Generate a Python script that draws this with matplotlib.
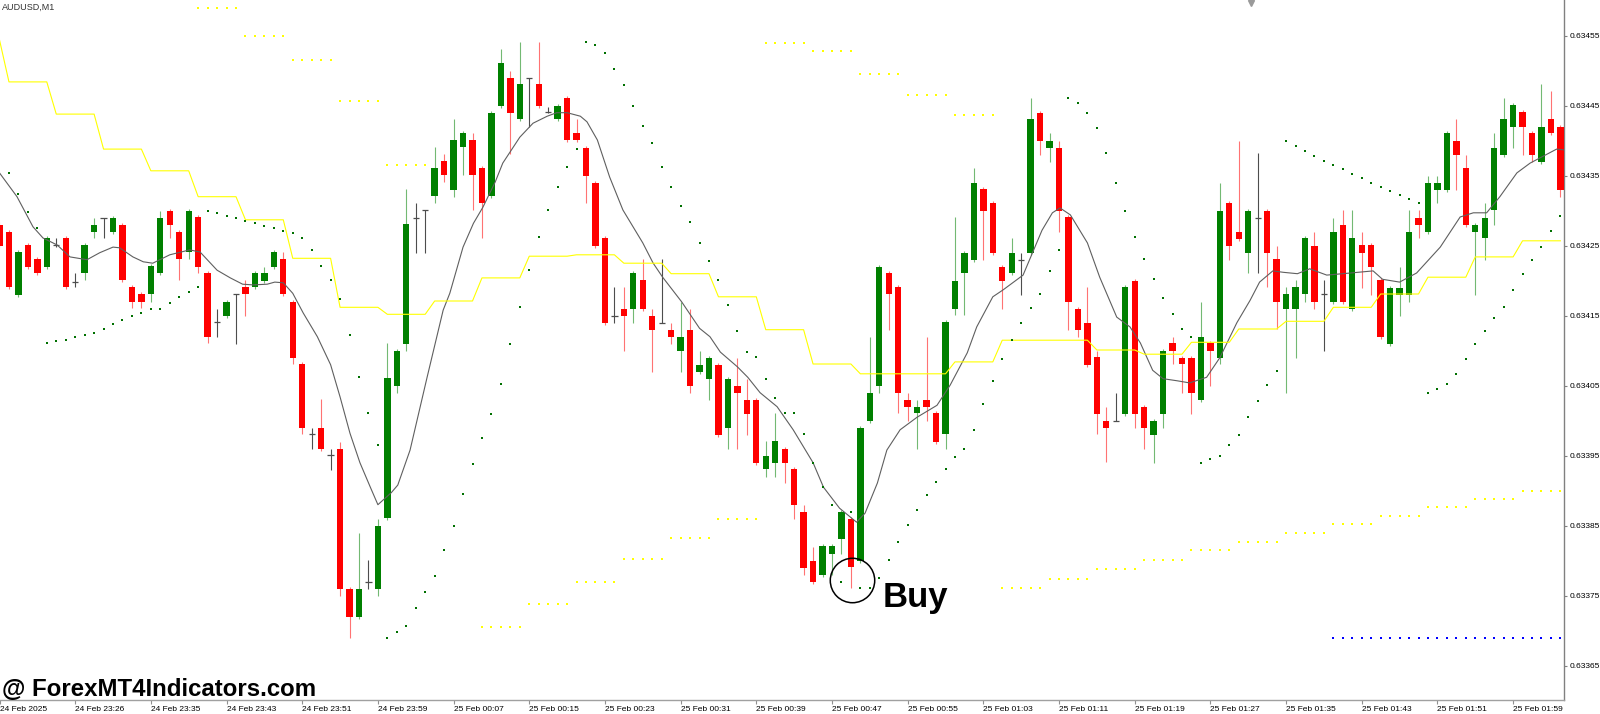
import numpy as np
import matplotlib
matplotlib.use("Agg")
import matplotlib.pyplot as plt
import matplotlib.transforms as mtransforms

plt.rcParams['font.family'] = ['Liberation Sans', 'DejaVu Sans']

SYMBOL = "AUDUSD,M1"
WATERMARK = "@ ForexMT4Indicators.com"

OPEN = [
    0.634280, 0.634270, 0.634180, 0.634251, 0.634231, 0.634220, 0.634251, 0.634261, 0.634198, 0.634211,
    0.634270, 0.634290, 0.634270, 0.634280, 0.634191, 0.634181, 0.634181, 0.634211, 0.634300, 0.634270,
    0.634241, 0.634291, 0.634211, 0.634141, 0.634150, 0.634181, 0.634191, 0.634191, 0.634200, 0.634220,
    0.634231, 0.634170, 0.634081, 0.633981, 0.633990, 0.633951, 0.633960, 0.633760, 0.633720, 0.633770,
    0.633760, 0.633861, 0.634050, 0.634110, 0.634290, 0.634301, 0.634321, 0.634371, 0.634330, 0.634391,
    0.634401, 0.634361, 0.634321, 0.634450, 0.634490, 0.634431, 0.634490, 0.634481, 0.634441, 0.634431,
    0.634461, 0.634411, 0.634390, 0.634340, 0.634261, 0.634150, 0.634160, 0.634160, 0.634201, 0.634150,
    0.634140, 0.634130, 0.634100, 0.634130, 0.634070, 0.634060, 0.634080, 0.633990, 0.634050, 0.634030,
    0.634030, 0.633931, 0.633940, 0.633960, 0.633931, 0.633870, 0.633800, 0.633780, 0.633810, 0.633831,
    0.633860, 0.633800, 0.634000, 0.634050, 0.634211, 0.634191, 0.634030, 0.634011, 0.634030, 0.634011,
    0.633981, 0.634160, 0.634211, 0.634230, 0.634331, 0.634311, 0.634220, 0.634211, 0.634230, 0.634240,
    0.634440, 0.634390, 0.634390, 0.634291, 0.634160, 0.634140, 0.634091, 0.634000, 0.634000, 0.634010,
    0.634200, 0.634020, 0.633980, 0.634010, 0.634111, 0.634090, 0.634090, 0.634030, 0.634111, 0.634090,
    0.634311, 0.634270, 0.634240, 0.634290, 0.634300, 0.634231, 0.634160, 0.634160, 0.634181, 0.634250,
    0.634181, 0.634170, 0.634280, 0.634160, 0.634251, 0.634251, 0.634201, 0.634110, 0.634180, 0.634180,
    0.634290, 0.634270, 0.634330, 0.634330, 0.634400, 0.634361, 0.634270, 0.634261, 0.634301, 0.634380,
    0.634420, 0.634441, 0.634411, 0.634370, 0.634431, 0.634420,
]
HIGH = [
    0.634284, 0.634272, 0.634244, 0.634254, 0.634234, 0.634264, 0.634261, 0.634264, 0.634211, 0.634254,
    0.634290, 0.634290, 0.634292, 0.634282, 0.634194, 0.634184, 0.634224, 0.634300, 0.634302, 0.634272,
    0.634302, 0.634294, 0.634214, 0.634160, 0.634172, 0.634181, 0.634201, 0.634214, 0.634220, 0.634244,
    0.634241, 0.634172, 0.634084, 0.633990, 0.634031, 0.633960, 0.633970, 0.633762, 0.633840, 0.633801,
    0.633860, 0.634111, 0.634102, 0.634331, 0.634311, 0.634301, 0.634391, 0.634381, 0.634431, 0.634414,
    0.634411, 0.634364, 0.634442, 0.634531, 0.634500, 0.634541, 0.634490, 0.634541, 0.634448, 0.634452,
    0.634464, 0.634431, 0.634392, 0.634342, 0.634264, 0.634191, 0.634191, 0.634214, 0.634231, 0.634160,
    0.634231, 0.634140, 0.634170, 0.634160, 0.634100, 0.634092, 0.634082, 0.634062, 0.634090, 0.634060,
    0.634032, 0.633971, 0.634011, 0.633962, 0.633934, 0.633880, 0.633820, 0.633824, 0.633824, 0.633872,
    0.633862, 0.633992, 0.634120, 0.634222, 0.634214, 0.634194, 0.634040, 0.634030, 0.634120, 0.634014,
    0.634144, 0.634291, 0.634242, 0.634361, 0.634334, 0.634314, 0.634222, 0.634261, 0.634240, 0.634461,
    0.634442, 0.634411, 0.634400, 0.634294, 0.634162, 0.634191, 0.634100, 0.634020, 0.634040, 0.634194,
    0.634202, 0.634022, 0.634002, 0.634102, 0.634120, 0.634092, 0.634092, 0.634170, 0.634114, 0.634340,
    0.634314, 0.634400, 0.634302, 0.634382, 0.634302, 0.634250, 0.634191, 0.634201, 0.634264, 0.634270,
    0.634201, 0.634290, 0.634301, 0.634301, 0.634270, 0.634254, 0.634204, 0.634192, 0.634220, 0.634301,
    0.634301, 0.634350, 0.634350, 0.634414, 0.634431, 0.634380, 0.634282, 0.634311, 0.634411, 0.634461,
    0.634454, 0.634444, 0.634414, 0.634481, 0.634471, 0.634422,
]
LOW = [
    0.634247, 0.634188, 0.634177, 0.634217, 0.634208, 0.634217, 0.634248, 0.634188, 0.634191, 0.634201,
    0.634261, 0.634261, 0.634267, 0.634198, 0.634161, 0.634161, 0.634170, 0.634208, 0.634261, 0.634201,
    0.634231, 0.634211, 0.634111, 0.634120, 0.634147, 0.634110, 0.634150, 0.634188, 0.634197, 0.634217,
    0.634178, 0.634081, 0.633981, 0.633960, 0.633957, 0.633930, 0.633750, 0.633690, 0.633717, 0.633760,
    0.633750, 0.633858, 0.634040, 0.634100, 0.634240, 0.634240, 0.634311, 0.634341, 0.634320, 0.634351,
    0.634301, 0.634261, 0.634318, 0.634447, 0.634381, 0.634428, 0.634420, 0.634447, 0.634440, 0.634428,
    0.634398, 0.634398, 0.634311, 0.634247, 0.634137, 0.634140, 0.634100, 0.634140, 0.634157, 0.634070,
    0.634140, 0.634110, 0.634070, 0.634040, 0.634067, 0.634030, 0.633977, 0.633960, 0.633960, 0.633980,
    0.633937, 0.633920, 0.633920, 0.633911, 0.633860, 0.633780, 0.633767, 0.633777, 0.633780, 0.633810,
    0.633761, 0.633797, 0.633997, 0.634040, 0.634130, 0.634011, 0.634000, 0.633960, 0.634000, 0.633967,
    0.633960, 0.634151, 0.634151, 0.634227, 0.634230, 0.634237, 0.634160, 0.634208, 0.634180, 0.634237,
    0.634380, 0.634370, 0.634270, 0.634130, 0.634120, 0.634077, 0.633981, 0.633941, 0.634000, 0.634007,
    0.633990, 0.633960, 0.633940, 0.633990, 0.634081, 0.634040, 0.634010, 0.634027, 0.634050, 0.634081,
    0.634230, 0.634257, 0.634211, 0.634211, 0.634191, 0.634131, 0.634040, 0.634090, 0.634170, 0.634160,
    0.634100, 0.634167, 0.634167, 0.634157, 0.634190, 0.634180, 0.634117, 0.634107, 0.634150, 0.634170,
    0.634261, 0.634267, 0.634311, 0.634327, 0.634330, 0.634277, 0.634180, 0.634230, 0.634280, 0.634377,
    0.634390, 0.634380, 0.634370, 0.634367, 0.634408, 0.634320,
]
CLOSE = [
    0.634250, 0.634191, 0.634241, 0.634220, 0.634211, 0.634261, 0.634251, 0.634191, 0.634198, 0.634251,
    0.634280, 0.634290, 0.634290, 0.634201, 0.634170, 0.634170, 0.634221, 0.634290, 0.634280, 0.634231,
    0.634300, 0.634220, 0.634120, 0.634141, 0.634170, 0.634181, 0.634181, 0.634211, 0.634211, 0.634241,
    0.634181, 0.634090, 0.633990, 0.633981, 0.633960, 0.633951, 0.633760, 0.633720, 0.633760, 0.633770,
    0.633850, 0.634061, 0.634100, 0.634281, 0.634290, 0.634301, 0.634361, 0.634351, 0.634401, 0.634411,
    0.634351, 0.634311, 0.634440, 0.634511, 0.634440, 0.634481, 0.634490, 0.634450, 0.634441, 0.634450,
    0.634401, 0.634401, 0.634350, 0.634250, 0.634140, 0.634150, 0.634150, 0.634211, 0.634160, 0.634130,
    0.634140, 0.634120, 0.634120, 0.634050, 0.634080, 0.634090, 0.633980, 0.634060, 0.634040, 0.634010,
    0.633940, 0.633950, 0.633971, 0.633940, 0.633880, 0.633790, 0.633770, 0.633821, 0.633821, 0.633870,
    0.633791, 0.633990, 0.634040, 0.634220, 0.634181, 0.634040, 0.634020, 0.634020, 0.634020, 0.633970,
    0.634141, 0.634200, 0.634240, 0.634340, 0.634300, 0.634240, 0.634200, 0.634240, 0.634230, 0.634431,
    0.634400, 0.634400, 0.634300, 0.634170, 0.634130, 0.634080, 0.634010, 0.633990, 0.634000, 0.634191,
    0.634010, 0.633990, 0.634000, 0.634100, 0.634100, 0.634081, 0.634040, 0.634120, 0.634100, 0.634300,
    0.634250, 0.634260, 0.634300, 0.634290, 0.634240, 0.634170, 0.634181, 0.634191, 0.634261, 0.634170,
    0.634181, 0.634270, 0.634170, 0.634261, 0.634240, 0.634220, 0.634120, 0.634190, 0.634190, 0.634270,
    0.634280, 0.634340, 0.634340, 0.634411, 0.634380, 0.634280, 0.634280, 0.634290, 0.634390, 0.634431,
    0.634451, 0.634420, 0.634380, 0.634420, 0.634411, 0.634330,
]

# thin grey moving average, read as (bar position, price) points
MA_BAR = [0, 1.85, 3.54, 4.6, 6.1, 7.45, 9.25, 10.6, 12.0, 12.7,
          14.1, 15.2, 16.2, 18.0, 20.1, 21.2, 23.0, 24.4, 25.7, 26.8,
          28.3, 29.1, 30.0, 31.0, 32.1, 33.6, 35.0, 36.0, 37.05, 38.1,
          39.2, 40.0, 41.4, 42.1, 43.4, 45.2, 46.9, 47.6, 49.0, 50.1,
          51.1, 52.4, 53.2, 55.0, 56.4, 57.9, 58.9, 60.0, 61.4, 62.1,
          63.2, 64.5, 65.9, 68.0, 69.1, 70.1, 72.1, 73.2, 74.0, 75.1,
          76.2, 78.0, 79.1, 80.4, 82.2, 83.9, 86.0, 87.1, 88.8, 90.6,
          91.5, 92.8, 93.8, 95.2, 97.0, 99.1, 100.5, 102.3, 103.3, 105.0,
          106.1, 108.2, 109.2, 110.2, 111.3, 112.1, 113.2, 115.0, 116.3, 118.1,
          119.5, 120.6, 121.9, 123.0, 124.5, 125.8, 127.6, 129.0, 130.8, 132.2,
          133.2, 134.6, 135.7, 137.2, 138.5, 140.3, 142.8, 145.2, 146.2, 148.0,
          149.8, 152.3, 154.4, 155.8, 157.2, 158.6, 160.4, 161.8, 163.2, 164.6,
          165.3]
MA_PRICE = [0.634354, 0.634320, 0.634277, 0.634261, 0.634251, 0.634234, 0.634230, 0.634240, 0.634248, 0.634247,
            0.634234, 0.634227, 0.634225, 0.634237, 0.634244, 0.634241, 0.634215, 0.634204, 0.634195, 0.634194,
            0.634195, 0.634198, 0.634197, 0.634182, 0.634154, 0.634120, 0.634080, 0.634034, 0.633982, 0.633940,
            0.633905, 0.633880, 0.633897, 0.633908, 0.633958, 0.634062, 0.634158, 0.634182, 0.634248, 0.634282,
            0.634305, 0.634341, 0.634368, 0.634405, 0.634425, 0.634435, 0.634440, 0.634440, 0.634435, 0.634427,
            0.634401, 0.634348, 0.634301, 0.634254, 0.634225, 0.634205, 0.634170, 0.634148, 0.634132, 0.634120,
            0.634098, 0.634077, 0.634062, 0.634040, 0.634020, 0.633987, 0.633940, 0.633905, 0.633875, 0.633855,
            0.633868, 0.633911, 0.633958, 0.633987, 0.634005, 0.634022, 0.634051, 0.634097, 0.634134, 0.634177,
            0.634187, 0.634208, 0.634240, 0.634272, 0.634297, 0.634304, 0.634294, 0.634254, 0.634205, 0.634148,
            0.634134, 0.634111, 0.634072, 0.634060, 0.634057, 0.634054, 0.634062, 0.634090, 0.634140, 0.634172,
            0.634198, 0.634214, 0.634212, 0.634210, 0.634217, 0.634208, 0.634211, 0.634214, 0.634202, 0.634198,
            0.634211, 0.634248, 0.634291, 0.634297, 0.634297, 0.634320, 0.634354, 0.634368, 0.634378, 0.634388,
            0.634387]

# parabolic SAR dots, one per bar
PSAR = [
    0.634387, 0.634354, 0.634324, 0.634298, 0.634275, 0.634111, 0.634114, 0.634115, 0.634120, 0.634122,
    0.634125, 0.634131, 0.634138, 0.634144, 0.634150, 0.634154, 0.634160, 0.634160, 0.634168, 0.634177,
    0.634184, 0.634191, 0.634300, 0.634297, 0.634292, 0.634290, 0.634285, 0.634282, 0.634278, 0.634275,
    0.634271, 0.634268, 0.634261, 0.634244, 0.634221, 0.634201, 0.634174, 0.634122, 0.634062, 0.634011,
    0.633965, 0.633690, 0.633698, 0.633707, 0.633733, 0.633755, 0.633778, 0.633815, 0.633850, 0.633895,
    0.633938, 0.633975, 0.634010, 0.634053, 0.634110, 0.634162, 0.634215, 0.634262, 0.634301, 0.634334,
    0.634362, 0.634388, 0.634541, 0.634537, 0.634525, 0.634502, 0.634480, 0.634450, 0.634421, 0.634397,
    0.634362, 0.634334, 0.634307, 0.634284, 0.634254, 0.634228, 0.634201, 0.634165, 0.634128, 0.634098,
    0.634091, 0.634060, 0.634032, 0.634011, 0.634011, 0.633981, 0.633939, 0.633905, 0.633880, 0.633770,
    0.633870, 0.633761, 0.633761, 0.633775, 0.633801, 0.633827, 0.633851, 0.633872, 0.633894, 0.633912,
    0.633931, 0.633948, 0.633960, 0.633987, 0.634024, 0.634057, 0.634088, 0.634115, 0.634140, 0.634161,
    0.634181, 0.634214, 0.634244, 0.634461, 0.634454, 0.634440, 0.634418, 0.634382, 0.634340, 0.634300,
    0.634262, 0.634231, 0.634202, 0.634175, 0.634153, 0.634131, 0.634120, 0.633940, 0.633945, 0.633950,
    0.633965, 0.633980, 0.634005, 0.634028, 0.634051, 0.634071, 0.634400, 0.634392, 0.634385, 0.634378,
    0.634371, 0.634365, 0.634360, 0.634352, 0.634347, 0.634340, 0.634334, 0.634328, 0.634322, 0.634317,
    0.634311, 0.634040, 0.634045, 0.634052, 0.634067, 0.634088, 0.634110, 0.634128, 0.634147, 0.634162,
    0.634187, 0.634210, 0.634230, 0.634248, 0.634271, 0.634292,
]

# yellow higher-timeframe line: value of bar 0, then one value per 5-bar block
MTF_FIRST = 0.634544
MTF_BLOCKS = [0.634484, 0.634438, 0.634388, 0.634357, 0.634320, 0.634287, 0.634232, 0.634162, 0.634152, 0.634171,
              0.634204, 0.634235, 0.634237, 0.634225, 0.634210, 0.634177, 0.634130, 0.634081, 0.634067, 0.634067,
              0.634084, 0.634115, 0.634115, 0.634101, 0.634095, 0.634112, 0.634131, 0.634142, 0.634162, 0.634181,
              0.634205, 0.634234, 0.634257]
# yellow dotted levels per 5-bar block (None = not drawn)
UPPER_LEVEL = [None, None, None, None, 0.634590, 0.634550, 0.634515, 0.634457, 0.634365, None,
               None, None, None, None, None, None, 0.634540, 0.634528, 0.634495, 0.634465,
               0.634437, None, None, None, None, None, None, None, None, None,
               None, None, None]
LOWER_LEVEL = [None, None, None, None, None, None, None, None, None, None,
               0.633705, 0.633738, 0.633770, 0.633802, 0.633832, 0.633860, None, None, None, None,
               None, 0.633761, 0.633774, 0.633788, 0.633801, 0.633815, 0.633827, 0.633840, 0.633852, 0.633864,
               0.633877, 0.633888, 0.633900]
BLUE_LEVEL = 0.633690
BLUE_FROM_BAR = 141

PRICE_TICKS = [0.63365, 0.63375, 0.63385, 0.63395, 0.63405, 0.63415, 0.63425, 0.63435, 0.63445, 0.63455]
TICK_BARS = list(range(0, 161, 8))
TIME_LABELS = ["24 Feb 2025", "24 Feb 23:26", "24 Feb 23:35", "24 Feb 23:43", "24 Feb 23:51",
               "24 Feb 23:59", "25 Feb 00:07", "25 Feb 00:15", "25 Feb 00:23", "25 Feb 00:31",
               "25 Feb 00:39", "25 Feb 00:47", "25 Feb 00:55", "25 Feb 01:03", "25 Feb 01:11",
               "25 Feb 01:19", "25 Feb 01:27", "25 Feb 01:35", "25 Feb 01:43", "25 Feb 01:51",
               "25 Feb 01:59"]

BUY_BAR, BUY_PRICE = 90.07, 0.633773
BUY_TEXT_BAR, BUY_TEXT_PRICE = 93.4, 0.633734

# ---------------------------------------------------------------- figure
W, H = 1600, 714
fig = plt.figure(figsize=(W / 100, H / 100), dpi=100)
fig.patch.set_facecolor('white')
AX_RIGHT_PX, AX_BOTTOM_PX = 1564, 700
ax = fig.add_axes([0, (H - AX_BOTTOM_PX) / H, AX_RIGHT_PX / W, AX_BOTTOM_PX / H])
ax.set_facecolor('white')

o = np.array(OPEN); h = np.array(HIGH); l = np.array(LOW); c = np.array(CLOSE)
n = len(o)
x = np.arange(n)
up = c > o
dn = c < o
eq = c == o

GREEN, RED, DOJI = '#008000', '#ff0000', '#4d4d4d'
BW = 0.67
ax.vlines(x[up], l[up], h[up], colors=GREEN, lw=0.8, alpha=0.55, zorder=2)
ax.vlines(x[dn], l[dn], h[dn], colors=RED, lw=0.8, alpha=0.55, zorder=2)
ax.vlines(x[eq], l[eq], h[eq], colors=DOJI, lw=0.8, zorder=2)
ax.bar(x[up], c[up] - o[up], BW, bottom=o[up], color=GREEN, lw=0, zorder=3)
ax.bar(x[dn], o[dn] - c[dn], BW, bottom=c[dn], color=RED, lw=0, zorder=3)
ax.hlines(c[eq], x[eq] - BW / 2, x[eq] + BW / 2, colors=DOJI, lw=0.9, zorder=3)

# moving average
ax.plot(MA_BAR, MA_PRICE, color='#5f5f5f', lw=0.8, zorder=4)

# yellow MTF line
mtf = np.concatenate([[MTF_FIRST], np.repeat(MTF_BLOCKS, 5)])[:n]
ax.plot(x, mtf, color='#ffff00', lw=0.8, zorder=4)

# dotted yellow levels
for levels in (UPPER_LEVEL, LOWER_LEVEL):
    for k, v in enumerate(levels):
        if v is None:
            continue
        bars = np.arange(1 + 5 * k, 6 + 5 * k)
        ax.plot(bars, [v] * len(bars), ls='none', marker='s', ms=1.7, mew=0,
                color='#ffff00', zorder=4)

# blue dotted level
bb = np.arange(BLUE_FROM_BAR, n)
ax.plot(bb, [BLUE_LEVEL] * len(bb), ls='none', marker='s', ms=1.7, mew=0, color='#0000ff', zorder=4)

# parabolic SAR
ax.plot(x, PSAR, ls='none', marker='s', ms=1.6, mew=0, color='#007000', zorder=5)

# buy signal
ax.plot([BUY_BAR], [BUY_PRICE], marker='o', ms=32, mfc='none', mec='black', mew=1.1, zorder=6)
ax.text(BUY_TEXT_BAR, BUY_TEXT_PRICE, 'Buy', fontsize=25, fontweight='bold',
        ha='left', va='baseline', color='black', zorder=6)

# axes styling
xmin, xmax = 0.053, 165.38
ax.set_xlim(xmin, xmax)
ax.set_ylim(0.633601, 0.634601)
ax.yaxis.tick_right()
ax.set_yticks(PRICE_TICKS)
ax.set_yticklabels([f'{v:.5f}' for v in PRICE_TICKS])
ax.tick_params(axis='y', direction='out', length=2.5, width=0.8, color='#808080',
               pad=1.5, labelsize=6.0, labelcolor='black')
ax.set_xticks([max(b, xmin + 0.01) for b in TICK_BARS])
ax.set_xticklabels(TIME_LABELS, ha='left')
ax.tick_params(axis='x', direction='out', length=3, width=0.8, color='#909090',
               pad=1, labelsize=6.0, labelcolor='black')
for s in ('top', 'left'):
    ax.spines[s].set_visible(False)
ax.spines['right'].set_color('#808080')
ax.spines['right'].set_linewidth(1.0)
ax.spines['bottom'].set_color('#a0a0a0')
ax.spines['bottom'].set_linewidth(1.0)

ax.text(0.0013, 1 - 3 / 700, SYMBOL, transform=ax.transAxes, fontsize=6.5, va='top',
        ha='left', color='#333333')

trans = mtransforms.blended_transform_factory(ax.transData, ax.transAxes)
ax.plot([132.3], [1 - 3 / 700], transform=trans, marker='v', ms=5, color='#9a9a9a',
        clip_on=False, zorder=6)

fig.text(0.0015, (H - 696) / H, WATERMARK, fontsize=17.3, fontweight='bold',
         va='baseline', ha='left', color='black')

fig.savefig('out.png', dpi=100, facecolor='white')
